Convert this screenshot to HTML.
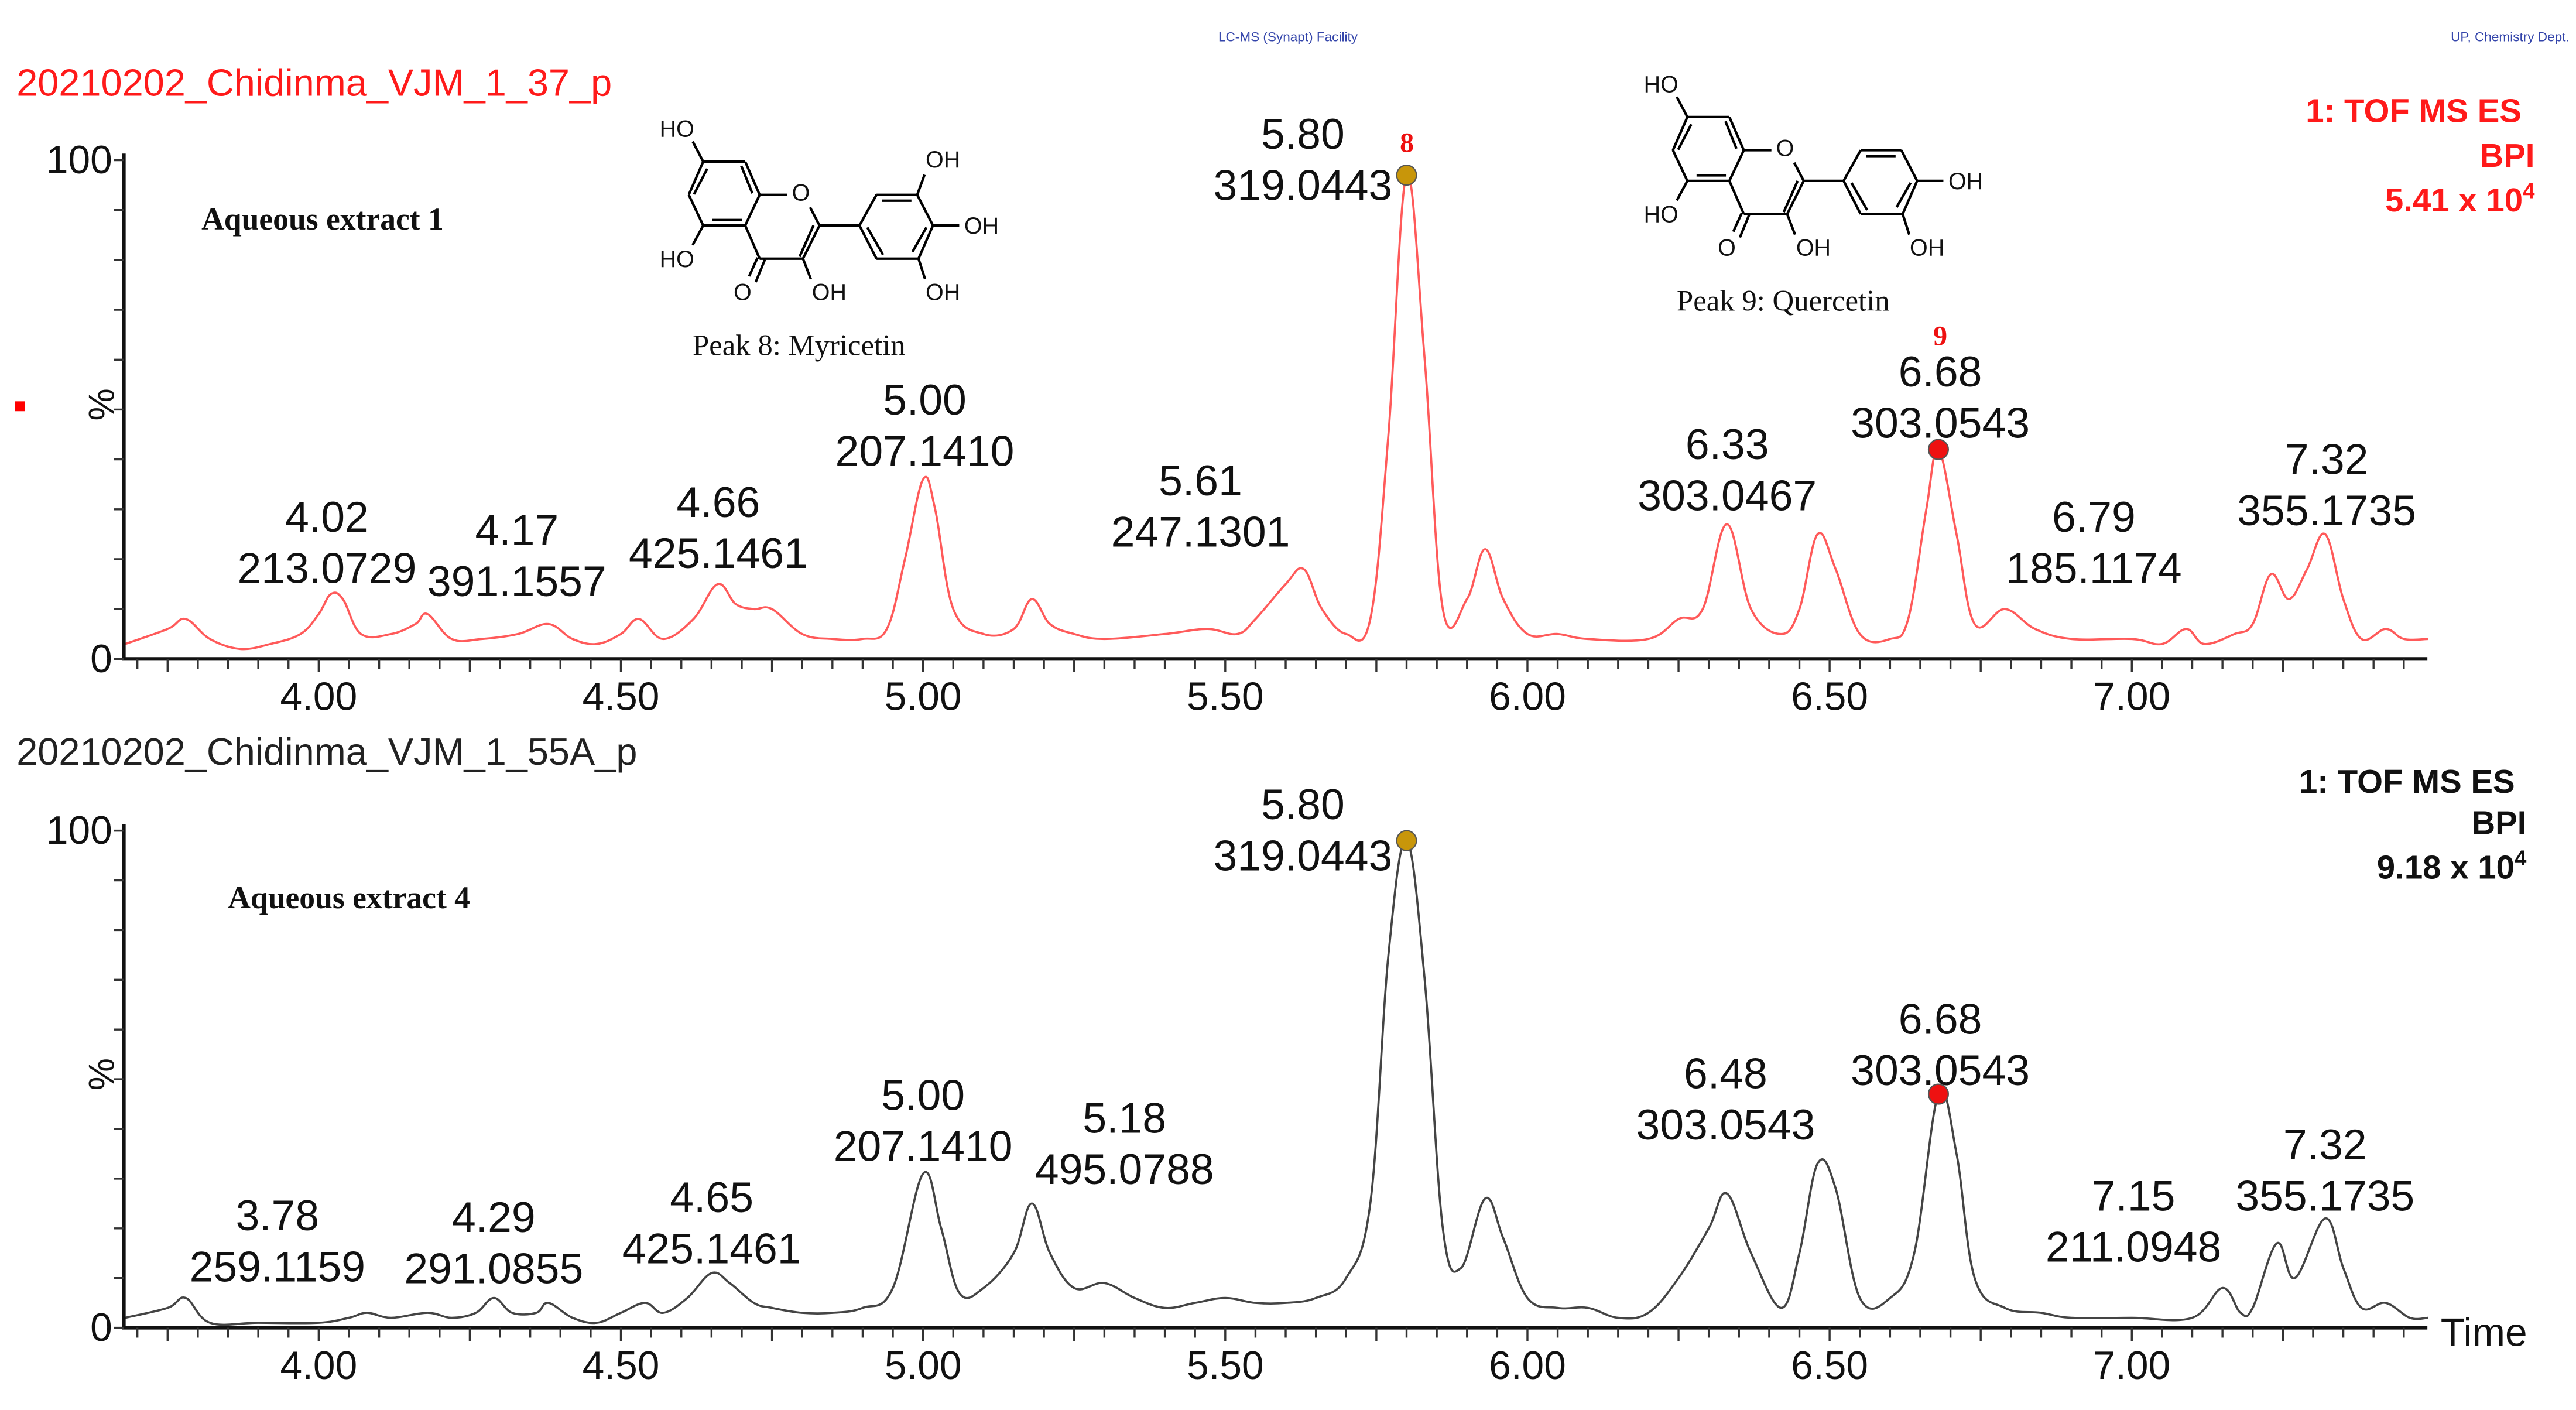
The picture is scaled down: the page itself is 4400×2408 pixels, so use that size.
<!DOCTYPE html>
<html><head><meta charset="utf-8"><style>
html,body{margin:0;padding:0;background:#fff;}
svg{display:block;}
text{font-family:"Liberation Sans",Arial,sans-serif;}
.serif{font-family:"Liberation Serif","Times New Roman",serif;}
</style></head><body>
<svg id="chart" xmlns="http://www.w3.org/2000/svg" width="4400" height="2408" viewBox="0 0 1560 853.8" preserveAspectRatio="none">
<rect x="0" y="0" width="1560" height="854" fill="#fff"/>
<text x="780" y="25" font-size="8" fill="#3344aa" text-anchor="middle">LC-MS (Synapt) Facility</text>
<text x="1556" y="25" font-size="8" fill="#3344aa" text-anchor="end">UP, Chemistry Dept.</text>
<text x="10" y="58" font-size="23" fill="#ff1a1a">20210202_Chidinma_VJM_1_37_p</text>
<text x="10" y="463" font-size="23" fill="#222">20210202_Chidinma_VJM_1_55A_p</text>
<rect x="9" y="243" width="6" height="6" fill="#ff0000"/>
<text class="serif" x="122" y="139" font-size="19" font-weight="bold" fill="#111">Aqueous extract 1</text>
<text class="serif" x="138" y="550" font-size="19" font-weight="bold" fill="#111">Aqueous extract 4</text>
<g font-weight="bold" font-size="20" fill="#ff1a1a" text-anchor="end">
<text x="1527" y="74">1: TOF MS ES</text><text x="1535" y="101">BPI</text><text x="1535" y="128">5.41 x 10<tspan font-size="13" dy="-8">4</tspan></text>
</g>
<g font-weight="bold" font-size="20" fill="#111" text-anchor="end">
<text x="1523" y="480">1: TOF MS ES</text><text x="1530" y="505">BPI</text><text x="1530" y="532">9.18 x 10<tspan font-size="13" dy="-8">4</tspan></text>
</g>
<text x="1478" y="815" font-size="24" fill="#111">Time</text>
<g id="top-panel"></g>
<g id="bottom-panel"></g>
<g id="struct8"></g>
<g id="struct9"></g>
</svg>
<script>
const times1=[3.68,3.75,3.78,3.82,3.87,3.92,3.97,4.00,4.02,4.04,4.07,4.12,4.16,4.18,4.22,4.27,4.33,4.38,4.42,4.46,4.50,4.53,4.57,4.62,4.66,4.69,4.72,4.75,4.80,4.85,4.90,4.94,4.97,5.00,5.02,5.05,5.10,5.15,5.18,5.21,5.25,5.30,5.40,5.47,5.52,5.55,5.60,5.63,5.66,5.70,5.74,5.77,5.80,5.83,5.86,5.90,5.93,5.96,6.00,6.05,6.10,6.20,6.25,6.29,6.33,6.37,6.42,6.45,6.48,6.51,6.55,6.60,6.63,6.66,6.68,6.71,6.74,6.79,6.84,6.90,7.00,7.05,7.09,7.12,7.17,7.20,7.23,7.26,7.29,7.32,7.35,7.38,7.42,7.45,7.49];
const vals1=[3,6,8,4,2,3,5,9,13,12,5,5,7,9,4,4,5,7,4,3,5,8,4,8,15,11,10,10,5,4,4,6,20,36,30,10,5,6,12,7,5,4,5,6,5,8,15,18,10,5,8,45,97,60,10,12,22,12,5,5,4,4,8,10,27,10,5,10,25,18,5,4,8,30,42,25,7,10,6,4,4,3,6,3,5,7,17,12,18,25,12,4,6,4,4];
const times2=[3.68,3.75,3.78,3.82,3.90,4.00,4.05,4.08,4.12,4.18,4.22,4.26,4.29,4.32,4.36,4.38,4.42,4.46,4.50,4.54,4.57,4.61,4.65,4.68,4.72,4.75,4.80,4.85,4.90,4.95,5.00,5.03,5.06,5.10,5.15,5.18,5.21,5.25,5.30,5.35,5.40,5.45,5.50,5.55,5.60,5.65,5.70,5.74,5.77,5.80,5.83,5.86,5.89,5.93,5.96,6.00,6.05,6.10,6.15,6.20,6.25,6.30,6.33,6.37,6.42,6.45,6.48,6.51,6.55,6.60,6.64,6.68,6.71,6.74,6.79,6.85,6.90,7.00,7.10,7.15,7.18,7.20,7.24,7.27,7.32,7.35,7.38,7.42,7.46,7.49];
const vals2=[2,4,6,1,1,1,2,3,2,3,2,3,6,3,3,5,2,1,3,5,3,6,11,9,5,4,3,3,4,8,31,20,7,8,15,25,15,8,9,6,4,5,6,5,5,6,10,25,75,98,70,20,12,26,18,6,4,4,2,3,10,20,27,15,4,15,33,28,6,6,15,47,35,10,4,3,2,2,2,8,3,4,17,10,22,12,4,5,2,2];
const annTimes1=["4.02","4.17","4.66","5.00","5.61","5.80","6.33","6.68","6.79","7.32"];
const annMass1=["213.0729","391.1557","425.1461","207.1410","247.1301","319.0443","303.0467","303.0543","185.1174","355.1735"];
const annTimes2=["3.78","4.29","4.65","5.00","5.18","5.80","6.48","6.68","7.15","7.32"];
const annMass2=["259.1159","291.0855","425.1461","207.1410","495.0788","319.0443","303.0543","303.0543","211.0948","355.1735"];
const xTickLabels=["4.00","4.50","5.00","5.50","6.00","6.50","7.00"];
const yTickLabels=["0","100"];
const annPos1=[[198,322],[313,330],[435,313],[560,251],[727,300],[789,90],[1046,278],[1175,234],[1268,322],[1409,287]];
const annPos2=[[168,745],[299,746],[431,734],[559,672],[681,686],[789,496],[1045,659],[1175,626],[1292,733],[1408,702]];

const NS="http://www.w3.org/2000/svg";
function mk(tag,attrs,parent){const e=document.createElementNS(NS,tag);for(const k in attrs)e.setAttribute(k,attrs[k]);parent.appendChild(e);return e;}
const X0=75,X1=1470;
function xs(t){return 193+(t-4)*366;}

function smoothPath(pts){
  let d="M"+pts[0][0].toFixed(2)+" "+pts[0][1].toFixed(2);
  for(let i=0;i<pts.length-1;i++){
    const p0=pts[Math.max(0,i-1)],p1=pts[i],p2=pts[i+1],p3=pts[Math.min(pts.length-1,i+2)];
    const k=0.18;
    const c1=[p1[0]+(p2[0]-p0[0])*k,p1[1]+(p2[1]-p0[1])*k];
    const c2=[p2[0]-(p3[0]-p1[0])*k,p2[1]-(p3[1]-p1[1])*k];
    d+="C"+c1[0].toFixed(2)+" "+c1[1].toFixed(2)+" "+c2[0].toFixed(2)+" "+c2[1].toFixed(2)+" "+p2[0].toFixed(2)+" "+p2[1].toFixed(2);
  }
  return d;
}

function panel(g,y100,y0,times,vals,color,annT,annM,annP,prefix,markers){
  const ys=v=>y0-(v/100)*(y0-y100);
  const pts=times.map((t,i)=>[xs(t),ys(vals[i])]);
  const p=mk("path",{d:smoothPath(pts),fill:"none",stroke:color,"stroke-width":1.3,"stroke-linejoin":"round"},g);
  
  
  const ax=mk("path",{d:`M${X0} ${y100-4}L${X0} ${y0}L${X1} ${y0}`,fill:"none",stroke:"#111","stroke-width":2.2},g);
  
  
  for(let k=0;k<=10;k++){
    const y=ys(k*10);
    const t=mk("line",{x1:X0-6,x2:X0,y1:y,y2:y,stroke:"#333","stroke-width":1.2},g);
    
    
  }
  yTickLabels.forEach((lab)=>{
    const tt=mk("text",{x:X0-7,y:ys(+lab)+8,"font-size":24,"text-anchor":"end",fill:"#111"},g);
    tt.textContent=lab;
    
    
  });
  const pc=mk("text",{x:0,y:0,"font-size":22,fill:"#111",transform:`translate(69 ${(y0+y100)/2-3}) rotate(-90)`,"text-anchor":"middle"},g);
  pc.textContent="%";
  
  
  for(let k=0;k<=80;k++){
    const t=3.70+k*0.05; if(t>7.46)break;
    const x=xs(t);
    const r=Math.round(t*100)%25===0;
    const tk=mk("line",{x1:x,x2:x,y1:y0,y2:y0+(r?8:6),stroke:"#333","stroke-width":1.2},g);
    
    
  }
  xTickLabels.forEach(lab=>{
    const tt=mk("text",{x:xs(+lab),y:y0+31,"font-size":24,"text-anchor":"middle",fill:"#111"},g);
    tt.textContent=lab;
    
    
  });
  annT.forEach((lab,i)=>{
    const cx=annP[i][0],cy=annP[i][1];
    const a=mk("text",{x:cx,y:cy,"font-size":26,"text-anchor":"middle",fill:"#111"},g);
    a.textContent=lab;
    
    
    const b=mk("text",{x:cx,y:cy+31,"font-size":26,"text-anchor":"middle",fill:"#111"},g);
    b.textContent=annM[i];
    
    
  });
  markers.forEach(m=>{
    const idx=times.indexOf(m.t);
    const c=mk("circle",{cx:xs(m.t),cy:ys(vals[idx]),r:6,fill:m.fill,stroke:"#555","stroke-width":0.8},g);
    
    
  });
}
panel(document.getElementById("top-panel"),97,399,times1,vals1,"#ff5a5a",annTimes1,annMass1,annPos1,"top",[{t:5.80,fill:"#c8960a"},{t:6.68,fill:"#ee1111"}]);
panel(document.getElementById("bottom-panel"),503,804,times2,vals2,"#444",annTimes2,annMass2,annPos2,"bottom",[{t:5.80,fill:"#c8960a"},{t:6.68,fill:"#ee1111"}]);
const topPanelEl=document.getElementById("top-panel");
[["8",852,92],["9",1175,209]].forEach(a=>{
  const t=mk("text",{x:a[1],y:a[2],"font-size":17,"font-weight":"bold","text-anchor":"middle",fill:"#ee1111",class:"serif"},topPanelEl);
  t.textContent=a[0];
  
  
});

const bonds=[[225,378,385,378],[385,378,440,548],[440,548,385,705],[385,705,225,705],[225,705,170,548],[170,548,225,378],
[240,415,190,545],[370,400,412,540],[260,677,372,677],[225,378,185,275],[225,705,185,805],[440,548,545,548],[632,612,668,705],
[668,705,605,875],[645,705,592,865],[605,875,440,875],[440,875,385,705],[432,870,400,965],[460,880,425,995],[605,875,635,980],
[668,705,820,705],[820,705,885,548],[885,548,1040,548],[1040,548,1100,705],[1100,705,1045,875],[1045,875,885,875],[885,875,820,705],
[905,578,1018,578],[850,715,910,855],[1075,715,1022,840],[1100,705,1200,705],[1045,875,1070,980]];
const topOH=[1040,548,1068,445];
const labels=[["HO",125,208],["HO",125,875],["O",375,1045],["OH",705,1045],["OH",1285,705],["OH",1138,1045],["O",597,535]];
function mp(px,py,ox,oy){return [(1100+px/2.23)/2.82+ox,(150+py/3)/2.82+oy];}
function struct(g,ox,oy,withTop,caption,cap){
  const all=withTop?bonds.concat([topOH]):bonds;
  all.forEach(b=>{const a=mp(b[0],b[1],ox,oy),c=mp(b[2],b[3],ox,oy);
    const l=mk("line",{x1:a[0],y1:a[1],x2:c[0],y2:c[1],stroke:"#000","stroke-width":1.5},g);
    
    });
  const ls=withTop?labels.concat([["OH",1138,365]]):labels;
  ls.forEach(l=>{const p=mp(l[1],l[2],ox,oy);
    const t=mk("text",{x:p[0],y:p[1]+5,"font-size":14,"text-anchor":"middle",fill:"#111"},g);
    t.textContent=l[0];
    
    });
  const c=mp(590,1370,ox,oy);
  const t=mk("text",{x:c[0]+cap,y:c[1],"font-size":18,"text-anchor":"middle",fill:"#111",class:"serif"},g);
  t.textContent=caption;
  
  
}
struct(document.getElementById("struct8"),0,0,true,"Peak 8: Myricetin",0);
struct(document.getElementById("struct9"),596,-27,false,"Peak 9: Quercetin",0);
</script>
</body></html>
